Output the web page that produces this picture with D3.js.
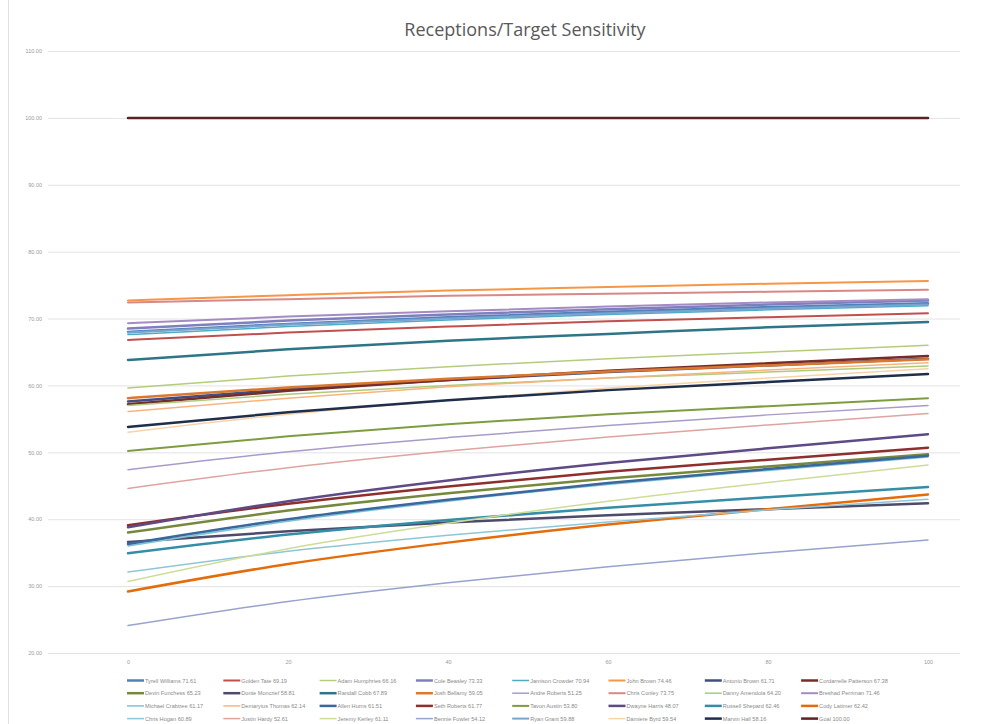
<!DOCTYPE html>
<html>
<head>
<meta charset="utf-8">
<script src="https://cdn.jsdelivr.net/npm/d3@7"></script>
<style>
  html, body { margin: 0; padding: 0; background: #fff; }
  svg { display: block; }
</style>
</head>
<body>
<svg id="chart" width="1000" height="724"></svg>
<script>
// Added-target steps on the x axis
const xSteps = [0, 20, 40, 60, 80, 100];

// Player names and the rate printed beside each in the legend
const players = [
  "Tyrell Williams", "Golden Tate", "Adam Humphries", "Cole Beasley",
  "Jamison Crowder", "John Brown", "Antonio Brown", "Cordarrelle Patterson",
  "Devin Funchess", "Donte Moncrief", "Randall Cobb", "Josh Bellamy",
  "Andre Roberts", "Chris Conley", "Danny Amendola", "Breshad Perriman",
  "Michael Crabtree", "Demaryius Thomas", "Allen Hurns", "Seth Roberts",
  "Tavon Austin", "Dwayne Harris", "Russell Shepard", "Cody Latimer",
  "Chris Hogan", "Justin Hardy", "Jeremy Kerley", "Bennie Fowler",
  "Ryan Grant", "Damiere Byrd", "Marvin Hall", "Goal"
];
const legendRates = [
  "71.61", "69.19", "66.16", "73.33", "70.94", "74.46", "61.71", "67.38",
  "65.23", "58.81", "67.89", "59.05", "51.25", "73.75", "64.20", "71.46",
  "61.17", "62.14", "61.51", "61.77", "53.80", "48.07", "62.46", "62.42",
  "60.89", "52.61", "61.11", "54.12", "59.88", "59.54", "58.16", "100.00"
];

// Receptions per target (%) at each x step, one row per player
const rates = [
  [68.0, 69.2, 70.2, 71.0, 71.7, 72.3],
  [66.8, 67.9, 68.8, 69.6, 70.2, 70.8],
  [59.6, 61.4, 62.8, 64.0, 65.0, 66.0],
  [68.5, 69.7, 70.6, 71.4, 72.1, 72.7],
  [67.6, 68.8, 69.8, 70.6, 71.3, 71.9],
  [72.7, 73.5, 74.2, 74.7, 75.2, 75.6],
  [57.6, 59.4, 60.8, 62.0, 63.0, 64.0],
  [57.2, 59.2, 60.8, 62.2, 63.3, 64.4],
  [38.0, 41.3, 43.9, 46.1, 47.9, 49.7],
  [36.6, 38.2, 39.5, 40.6, 41.5, 42.4],
  [63.8, 65.4, 66.7, 67.7, 68.7, 69.5],
  [58.1, 59.7, 61.0, 62.1, 63.0, 63.9],
  [47.4, 50.1, 52.2, 54.0, 55.6, 57.0],
  [72.4, 72.9, 73.4, 73.7, 74.0, 74.3],
  [57.0, 58.7, 60.0, 61.1, 62.0, 62.9],
  [69.3, 70.3, 71.1, 71.8, 72.4, 72.9],
  [36.0, 39.7, 42.7, 45.2, 47.3, 49.3],
  [56.1, 58.1, 59.8, 61.1, 62.3, 63.4],
  [36.3, 40.0, 42.9, 45.4, 47.5, 49.5],
  [39.1, 42.3, 44.9, 47.1, 48.9, 50.7],
  [50.2, 52.4, 54.2, 55.7, 56.9, 58.1],
  [38.8, 42.7, 45.8, 48.4, 50.6, 52.7],
  [34.9, 37.7, 39.9, 41.7, 43.3, 44.8],
  [29.2, 33.3, 36.5, 39.2, 41.5, 43.7],
  [32.1, 35.2, 37.6, 39.6, 41.4, 43.0],
  [44.6, 47.7, 50.2, 52.3, 54.1, 55.8],
  [30.7, 35.6, 39.4, 42.7, 45.5, 48.1],
  [24.1, 27.7, 30.5, 32.9, 35.0, 36.9],
  [67.9, 69.1, 70.0, 70.8, 71.5, 72.1],
  [53.0, 55.7, 57.8, 59.6, 61.1, 62.5],
  [53.8, 56.0, 57.8, 59.3, 60.5, 61.7],
  [100, 100, 100, 100, 100, 100]
];

// y axis tick values
const yTicks = [20, 30, 40, 50, 60, 70, 80, 90, 100, 110];

// Line colours and widths, in series order
const palette = [
  "#4F81BD", "#C0504D", "#B5CC7A", "#7F7FC0", "#4BACC6", "#F79646",
  "#3E4F86", "#772C2A", "#76883C", "#4D4A6B", "#2E7687", "#D9782E",
  "#A99BC9", "#D88886", "#AFCB7A", "#A48CC2", "#7CC3D6", "#F9B47E",
  "#3A679C", "#8E2F2D", "#7E9C40", "#5E4A85", "#358EA6", "#E46C0A",
  "#8FC6D6", "#DFA3A1", "#CEDC98", "#98A3CC", "#7BA3CF", "#F8D3A8",
  "#1F2E4A", "#5A2221"
];
const widths = [
  2.5, 2, 1.5, 2.5, 1.5, 2, 2.5, 2.5,
  2.5, 2.5, 2.5, 2.5, 1.5, 2, 1.5, 2,
  1.5, 1.5, 2.5, 2.5, 2, 2.5, 2.5, 2.5,
  1.5, 1.5, 1.5, 1.5, 2, 1.5, 2.5, 2.5
];

const svg = d3.select("#chart");
const W = 1000, H = 724;

// chart frame
svg.append("rect").attr("x", 8.5).attr("y", -1).attr("width", W).attr("height", H + 2)
  .attr("fill", "#fff").attr("stroke", "#e0e0e0").attr("stroke-width", 1);

const plotLeft = 48, plotRight = 960;
const x = d3.scaleLinear().domain([0, 100]).range([128, 928]);
const y = d3.scaleLinear().domain([20, 110]).range([653, 51]);

// title
svg.append("text")
  .attr("x", 525).attr("y", 36)
  .attr("text-anchor", "middle")
  .attr("font-family", "'Open Sans', Lato, sans-serif")
  .attr("font-size", 18)
  .attr("fill", "#595959")
  .text("Receptions/Target Sensitivity");

// horizontal gridlines + y labels
const yAxis = d3.axisLeft(y)
  .tickValues(yTicks)
  .tickSize(-(plotRight - plotLeft))
  .tickPadding(6)
  .tickFormat(d3.format(".2f"));
const gy = svg.append("g").attr("transform", `translate(${plotLeft},0)`).call(yAxis);
gy.select(".domain").remove();
gy.selectAll(".tick line").attr("stroke", "#e3e3e3").attr("stroke-width", 1);
gy.selectAll(".tick text")
  .attr("fill", "#9a9a9a")
  .attr("font-family", "'Liberation Sans', Arial, sans-serif")
  .attr("font-size", 5.5);

// x labels
const xAxis = d3.axisBottom(x).tickValues(xSteps).tickSize(0).tickPadding(7);
const gx = svg.append("g").attr("transform", `translate(0,${y(20)})`).call(xAxis);
gx.select(".domain").remove();
gx.selectAll(".tick text")
  .attr("fill", "#9a9a9a")
  .attr("font-family", "'Liberation Sans', Arial, sans-serif")
  .attr("font-size", 5.5);

// series lines
const line = d3.line()
  .x((d, i) => x(xSteps[i]))
  .y(d => y(d))
  .curve(d3.curveMonotoneX);

svg.append("g").selectAll("path")
  .data(rates)
  .join("path")
  .attr("d", d => line(d))
  .attr("fill", "none")
  .attr("stroke", (d, i) => palette[i])
  .attr("stroke-width", (d, i) => widths[i])
  .attr("stroke-linecap", "round");

// legend: 8 columns x 4 rows below the plot
const cols = 8;
const colX = d3.scaleLinear().domain([0, cols]).range([127, 127 + cols * 96.3]);
const rowY = d3.scaleLinear().domain([0, 4]).range([680.5, 680.5 + 4 * 12.7]);
const lg = svg.append("g").selectAll("g")
  .data(players)
  .join("g")
  .attr("transform", (d, i) => `translate(${colX(i % cols)},${rowY(Math.floor(i / cols))})`);
lg.append("line")
  .attr("x1", 0).attr("x2", 17).attr("y1", 0).attr("y2", 0)
  .attr("stroke", (d, i) => palette[i])
  .attr("stroke-width", (d, i) => widths[i]);
lg.append("text")
  .attr("x", 18).attr("y", 2)
  .attr("fill", "#8a8a8a")
  .attr("font-family", "'Liberation Sans', Arial, sans-serif")
  .attr("font-size", 5.6)
  .text((d, i) => `${d} ${legendRates[i]}`);
</script>
</body>
</html>
